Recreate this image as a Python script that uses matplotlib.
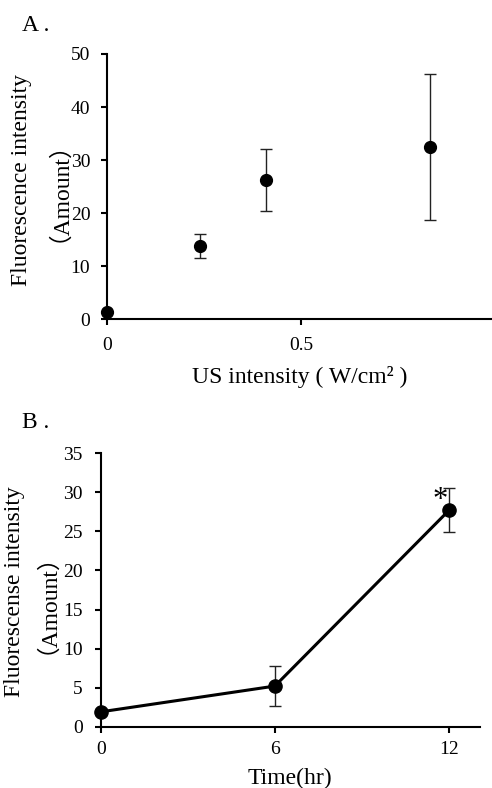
import matplotlib.pyplot as plt

plt.rcParams['font.family'] = ['Liberation Serif', 'Noto Sans CJK JP']

# Panel A: US intensity vs fluorescence
us_intensity = [0.0, 0.24, 0.41, 0.83]
fluor_a = [1.3, 13.8, 26.2, 32.5]
err_a = [0.0, 2.2, 5.8, 13.8]

# Panel B: time course
time_hr = [0, 6, 12]
fluor_b = [1.9, 5.2, 27.7]
err_b = [0.0, 2.6, 2.8]

fig = plt.figure(figsize=(4.92, 7.88), dpi=100)

axA = fig.add_axes([0.2175, 0.595, 0.7825, 0.3365])
axB = fig.add_axes([0.2047, 0.0778, 0.7709, 0.3469])

for ax in (axA, axB):
    ax.spines['top'].set_visible(False)
    ax.spines['right'].set_visible(False)
    ax.spines['left'].set_linewidth(1.5)
    ax.spines['bottom'].set_linewidth(1.5)
    ax.tick_params(direction='out', length=4, width=1.5, labelsize=14)

axA.tick_params(axis='x', pad=9)
axA.tick_params(axis='y', pad=8)
axB.tick_params(axis='x', pad=6)
axB.tick_params(axis='y', pad=9)

# ---- Panel A ----
axA.errorbar(us_intensity, fluor_a, yerr=err_a, fmt='o', color='black',
             markersize=8.5, ecolor='#222222', elinewidth=1.0, capsize=4,
             capthick=1.0, clip_on=False, zorder=3)
axA.set_xlim(0, 0.99)
axA.set_ylim(0, 50)
axA.set_xticks([0, 0.5])
axA.set_xticklabels(['0', '0.5'])
axA.set_yticks([0, 10, 20, 30, 40, 50])
fig.text(0.61, 0.5216, 'US intensity ( W/cm² )', fontsize=17,
         ha='center', va='center')
# y label drawn as two lines
fig.text(22 / 492, 0.7716, 'Fluorescence intensity', fontsize=17,
         rotation=90, ha='center', va='center')
fig.text(47 / 492, 0.7716, '（Amount）', fontsize=17,
         rotation=90, ha='center', va='center')
fig.text(0.045, 0.968, 'A .', fontsize=17, va='center', ha='left')

# ---- Panel B ----
axB.errorbar(time_hr, fluor_b, yerr=err_b, fmt='o-', color='black',
             markersize=9.5, linewidth=2.2, ecolor='#222222', elinewidth=1.0,
             capsize=4, capthick=1.0, clip_on=False, zorder=3)
axB.set_xlim(0, 13.07)
axB.set_ylim(0, 35)
axB.set_xticks([0, 6, 12])
axB.set_yticks(range(0, 36, 5))
fig.text(0.59, 0.0127, 'Time(hr)', fontsize=17, ha='center', va='center')
fig.text(15 / 492, 0.2487, 'Fluorescense intensity', fontsize=17,
         rotation=90, ha='center', va='center')
fig.text(35 / 492, 0.2487, '（Amount）', fontsize=17,
         rotation=90, ha='center', va='center')
axB.text(11.68, 29.0, '*', fontsize=22, ha='center', va='center')
fig.text(0.045, 0.464, 'B .', fontsize=17, va='center', ha='left')

fig.savefig('out.png', dpi=100)
